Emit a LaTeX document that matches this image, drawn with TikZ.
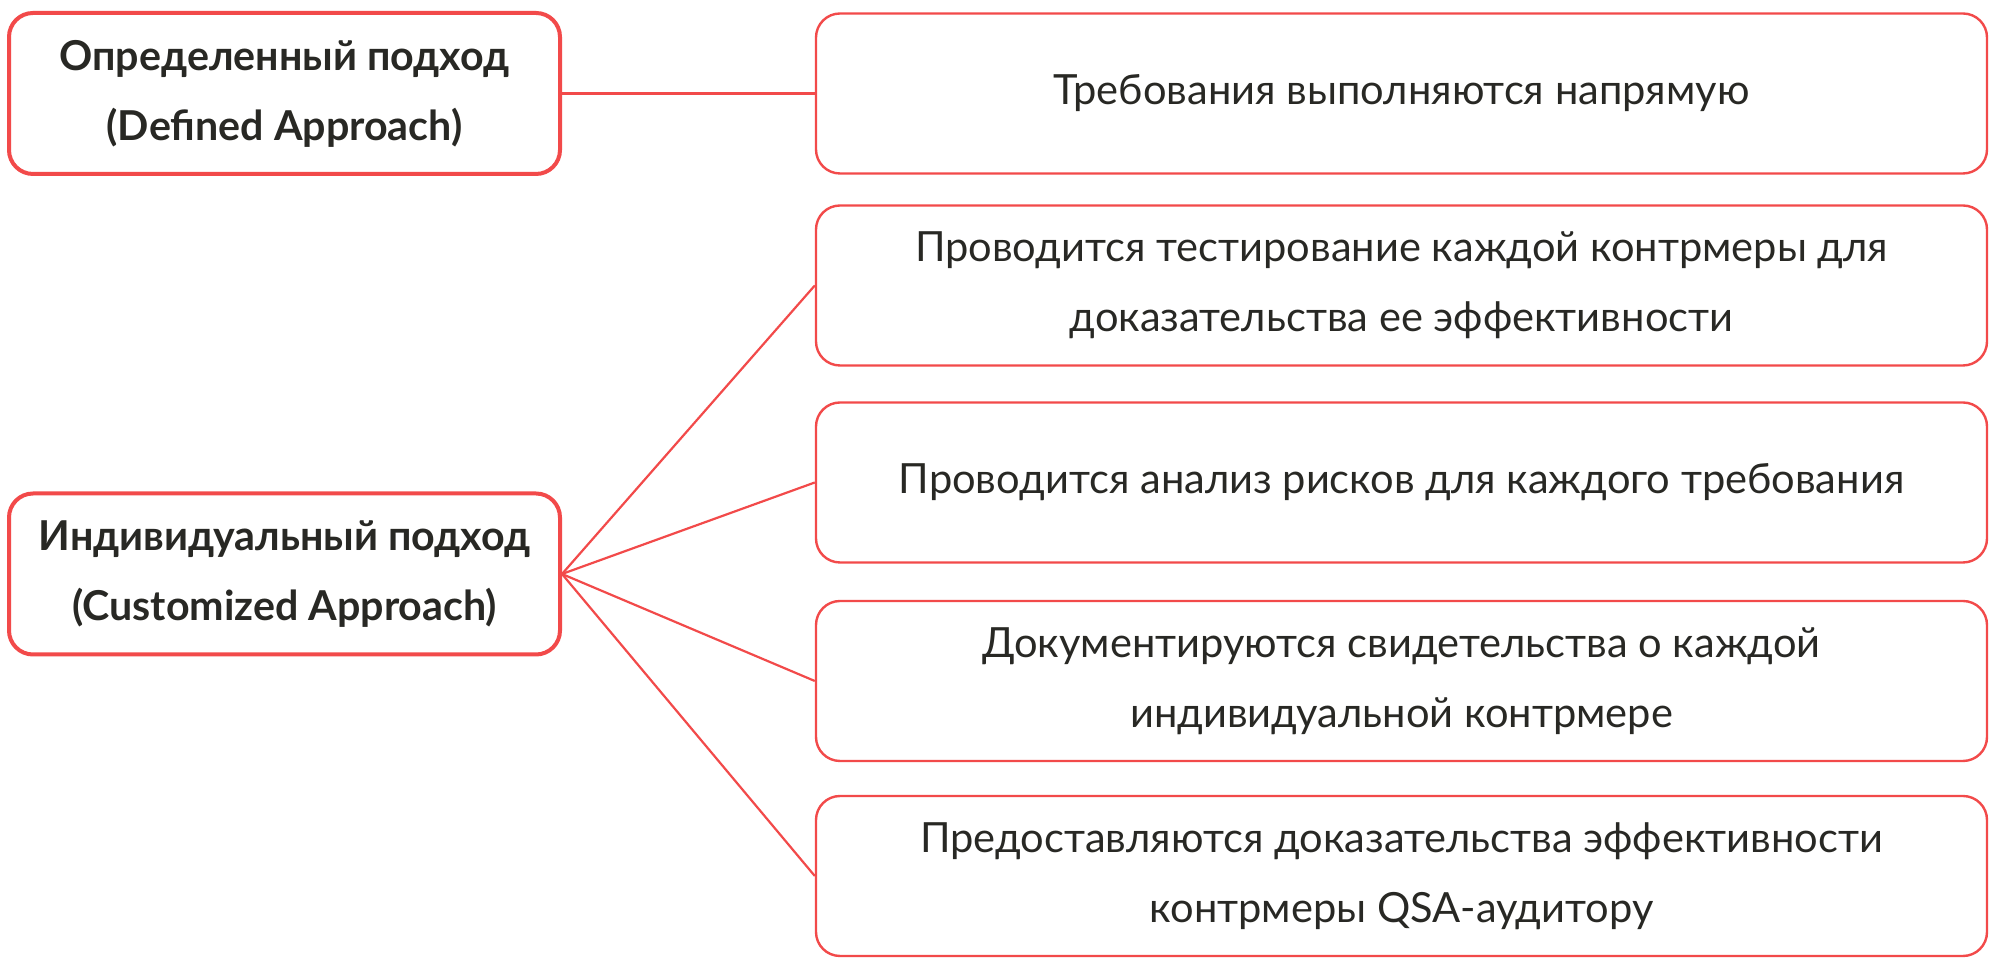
\documentclass[tikz,border=0pt]{standalone}
\usepackage{fontspec}
\setmainfont{Lato}
\definecolor{lineRed}{RGB}{242,74,74}
\definecolor{textDark}{RGB}{40,40,36}

\begin{document}
\begin{tikzpicture}[x=0.5pt,y=0.5pt,
    leftbox/.style={draw=lineRed, line width=2pt, rounded corners=12pt,
      minimum width=275.5pt, minimum height=80.5pt, inner sep=0pt,
      align=center, text=textDark, font=\bfseries\fontsize{20.6}{35}\selectfont},
    rightbox/.style={draw=lineRed, line width=1.2pt, rounded corners=12pt,
      minimum width=585.5pt, minimum height=80pt, inner sep=0pt,
      align=center, text=textDark, font=\fontsize{20.8}{35}\selectfont},
    link/.style={draw=lineRed, line width=1.1pt}]
  \useasboundingbox (0,0) rectangle (1997,968);

  \node[leftbox] (defined) at (284.5,874.5) {Определенный подход\\(Defined Approach)};
  \node[leftbox] (custom) at (284.5,394) {Индивидуальный подход\\(Customized Approach)};

  \node[rightbox] (req1) at (1401.5,874.5) {Требования выполняются напрямую};
  \node[rightbox] (req2) at (1401.5,682.5) {Проводится тестирование каждой контрмеры для\\доказательства ее эффективности};
  \node[rightbox] (req3) at (1401.5,485.5) {Проводится анализ рисков для каждого требования};
  \node[rightbox] (req4) at (1401.5,287) {Документируются свидетельства о каждой\\индивидуальной контрмере};
  \node[rightbox] (req5) at (1401.5,92) {Предоставляются доказательства эффективности\\контрмеры QSA-аудитору};

  \draw[link] (defined.east) -- (req1.west);
  \draw[link] (custom.east) -- (req2.west);
  \draw[link] (custom.east) -- (req3.west);
  \draw[link] (custom.east) -- (req4.west);
  \draw[link] (custom.east) -- (req5.west);
\end{tikzpicture}
\end{document}
